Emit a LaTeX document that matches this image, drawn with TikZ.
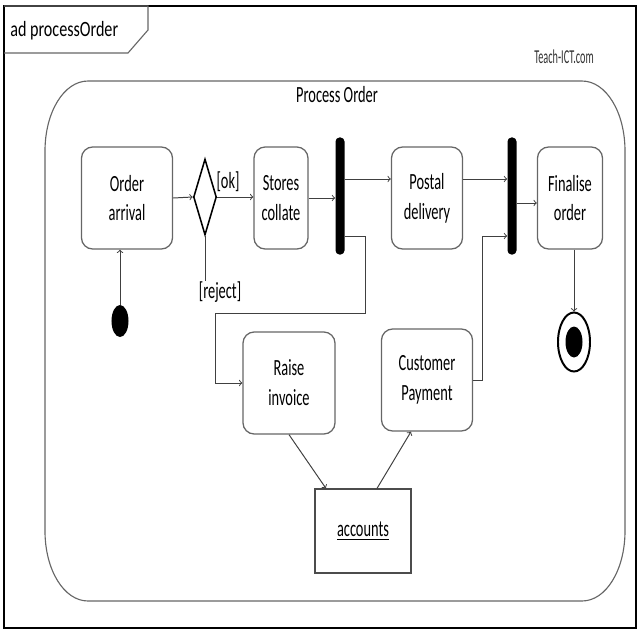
\documentclass[tikz,border=0pt]{standalone}
\usepackage{fontspec}
\setmainfont[FakeStretch=0.62]{Carlito}
\newfontfamily\tabfont[FakeStretch=0.74]{Carlito}
\newfontfamily\markfont[FakeStretch=0.52]{Carlito}
\usetikzlibrary{calc,shapes.geometric}

\tikzset{
	>=to,
	activity/.style={draw=black!60, line width=0.9pt, rounded corners=0.28cm, align=center,
		minimum height=2.55cm, inner sep=2pt, font=\fontsize{16.5}{21.3}\selectfont},
	objbox/.style={draw=black!70, line width=0.8pt, minimum width=2.4cm, minimum height=2.1cm,
		inner sep=2pt, font=\fontsize{16.5}{21.3}\selectfont},
	forkbar/.style={fill=black, rounded corners=0.1cm, minimum width=0.225cm,
		minimum height=2.925cm, inner sep=0pt},
	flow/.style={->, draw=black!75, line width=0.7pt},
	guard/.style={inner sep=0pt, font=\fontsize{16.5}{21.3}\selectfont},
}

\begin{document}
\begin{tikzpicture}[x=0.025cm, y=-0.025cm]
			%%%%% START %%%%%
			\useasboundingbox (0,0) rectangle (640,640);
			
			% frame and its name tab
			\draw[line width=1.8pt] (4,6) rectangle (636,628);
			\draw[black!60, line width=0.8pt] (4,6) -- (148,6) -- (148,30) -- (128,53) -- (4,53);
			\node[anchor=west, inner sep=0pt, font=\tabfont\fontsize{15.5}{18}\selectfont] (title) at (10,31) {ad processOrder};
			\node[inner sep=0pt, text=black!80, font=\markfont\fontsize{14}{16}\selectfont] (mark) at (564,57) {Teach-ICT.com};
			
			% the activity region
			\draw[black!60, line width=0.8pt] (88,81) -- (582,81) .. controls (606,81) and (625,112) .. (625,151)
				-- (625,531) .. controls (625,570) and (606,601) .. (582,601)
				-- (88,601) .. controls (64,601) and (45,570) .. (45,531)
				-- (45,151) .. controls (45,112) and (64,81) .. (88,81) -- cycle;
			\node[guard] (region) at (337,95) {Process Order};
			
			% actions
			\node[activity, minimum width=2.275cm] (order) at (127,198) {Order\\arrival};
			\node[draw=black, line width=1.1pt, diamond, inner sep=0pt, minimum width=0.575cm, minimum height=1.9cm] (dec) at (205,197) {};
			\node[activity, minimum width=1.35cm] (stores) at (281,198) {Stores\\collate};
			\node[forkbar] (fork1) at (340,196) {};
			\node[activity, minimum width=1.775cm] (postal) at (427,198) {Postal\\delivery};
			\node[forkbar] (fork2) at (512,196) {};
			\node[activity, minimum width=1.625cm] (fin) at (570,198) {Finalise\\order};
			
			\node[activity, minimum width=2.3cm] (raise) at (289,383) {Raise\\invoice};
			\node[activity, minimum width=2.275cm] (pay) at (427,380) {Customer\\Payment};
			\node[objbox] (acc) at (363,531) {\underline{accounts}};
			
			% start and end
			\node[ellipse, fill=black, inner sep=0pt, minimum width=0.425cm, minimum height=0.8cm] (init) at (120,321) {};
			\node[ellipse, draw=black, line width=1.4pt, inner sep=0pt, minimum width=0.8cm, minimum height=1.475cm] (final) at (574,342) {};
			\node[ellipse, fill=black, inner sep=0pt, minimum width=0.425cm, minimum height=0.775cm] (finaldot) at (final) {};
			
			% guards
			\node[guard] (ok) at (228,182) {[ok]};
			\node[guard] (reject) at (220,292) {[reject]};
			
			% helper points
			\coordinate (p1) at ($(postal.west)+(0,-19)$);
			\coordinate (p2) at ($(postal.east)+(0,-19)$);
			\coordinate (f2mid) at ($(fin.west)+(0,5)$);
			\coordinate (f1low) at ($(fork1.east)+(0,40)$);
			\coordinate (bend1) at (365,313);
			\coordinate (bend2) at (215,313);
			\coordinate (bend3) at (482,236);
			\coordinate (accin) at ($(acc.north)+(-37,0)$);
			\coordinate (accout) at ($(acc.north)+(14,0)$);
			\coordinate (payin) at ($(pay.south)+(-16,0)$);
			
			% flows
			\draw[flow] (init.north) -- (init.north |- order.south);
			\draw[flow] (order.east) -- (dec.west);
			\draw[flow] (dec.east) -- (dec.east -| stores.west);
			\draw[draw=black!75, line width=0.7pt] (dec.south) -- (dec.south |- reject.north);
			\draw[flow] (stores.east) -- (stores.east -| fork1.west);
			\draw[flow] (fork1.east |- p1) -- (p1);
			\draw[flow] (p2) -- (p2 -| fork2.west);
			\draw[flow] (fork2.east |- f2mid) -- (f2mid);
			\draw[flow] (f1low) -| (bend1) -- (bend2) |- (raise.west);
			\draw[flow] (pay.east) -| (bend3) -- (bend3 -| fork2.west);
			\draw[flow] (raise.south) -- (accin);
			\draw[flow] (accout) -- (payin);
			\draw[flow] (final.north |- fin.south) -- (final.north);
			
			%%%%% END %%%%%
\end{tikzpicture}
\end{document}
